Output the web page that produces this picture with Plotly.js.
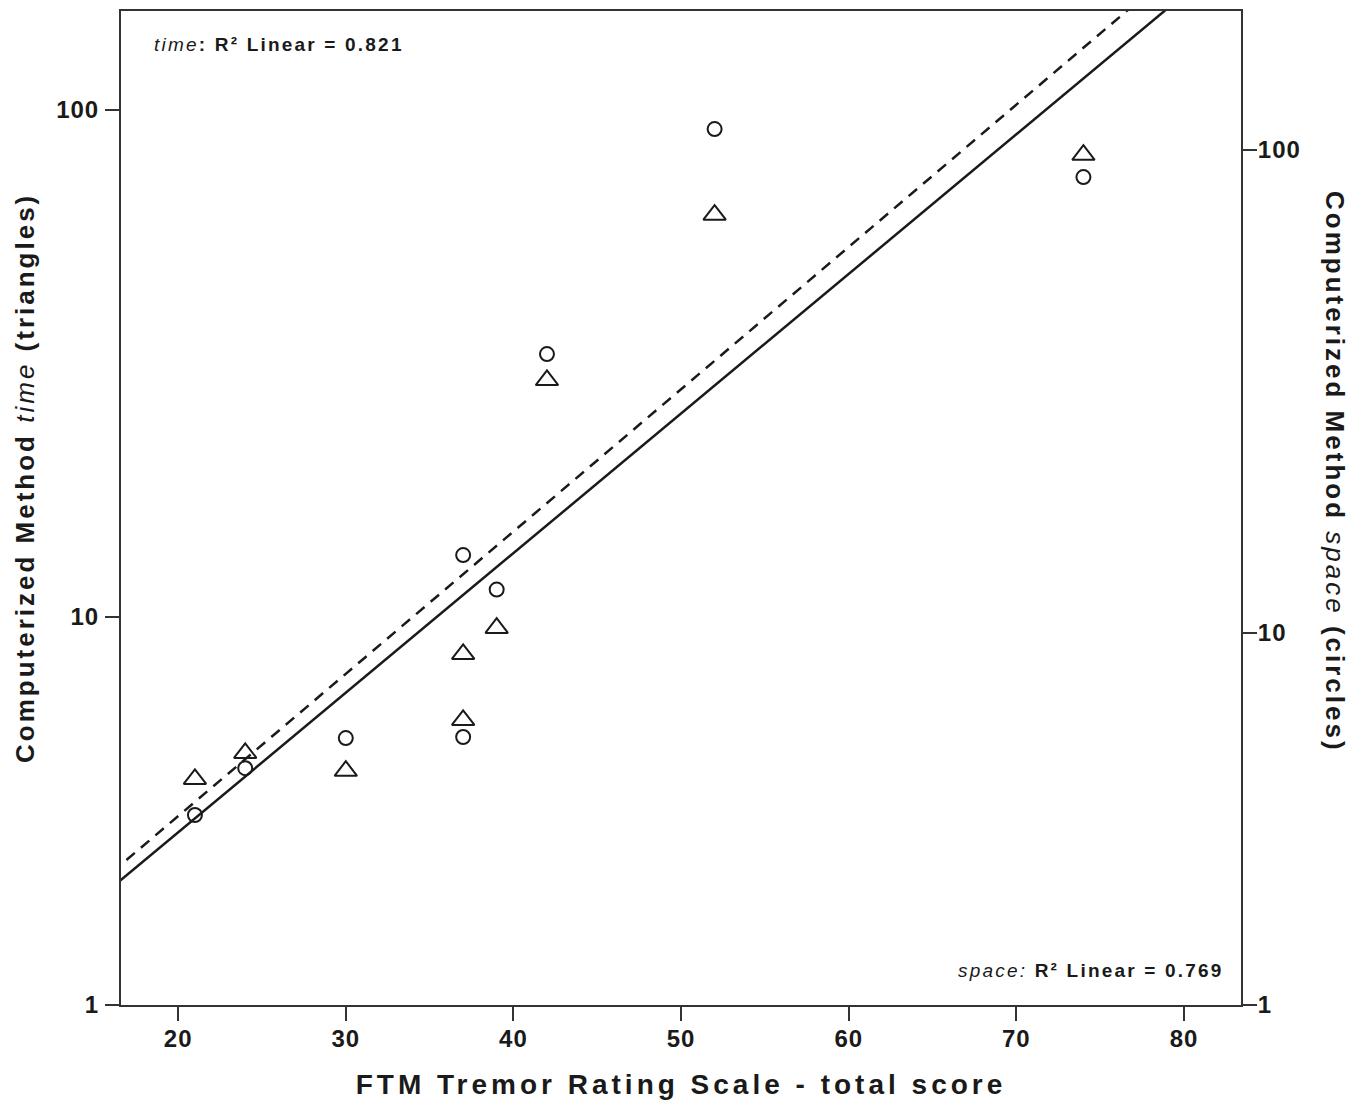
<!DOCTYPE html>
<html>
<head>
<meta charset="utf-8">
<script src="https://cdn.plot.ly/plotly-3.0.1.min.js"></script>
<style>
  html, body { margin: 0; padding: 0; background: #fff; }
  #chart { width: 1363px; height: 1111px; }
  svg text { letter-spacing: 1px; }
  .xtitle { letter-spacing: 4px; }
</style>
</head>
<body>
<div id="chart"></div>
<script>
// FTM Tremor Rating Scale total score
const scoreTime  = [21, 24, 30, 37, 37, 39, 42, 52, 74];
const scoreSpace = [21, 24, 30, 37, 37, 39, 42, 52, 74];
// Computerized method: time (triangles, left axis) and space (circles, right axis)
const timeVals  = [4.79, 5.39, 4.97, 8.45, 6.26, 9.51, 29.3, 62.1, 81.5];
const spaceVals = [4.20, 5.25, 6.06, 14.5, 6.09, 12.3, 37.8, 110.5, 87.9];
// Fit lines (log-linear), endpoints
const fitX     = [10, 90];
const fitTime  = [1.995, 318];
const fitSpace = [2.12, 482];
// Axis ticks
const xTicks = [20, 30, 40, 50, 60, 70, 80];
const yLeftTickVals  = [1.717, 10, 100];
const yRightTickVals = [1.698, 10, 100];
const yTickText = ['1', '10', '100'];

const ink = '#1a1a1a';
const axisCol = '#333333';
const FONT = 'Liberation Sans, Arial, Helvetica, sans-serif';
const sp = (px, s) => '<span style="letter-spacing:' + px + 'px">' + s + '</span>';

const traces = [
  { x: fitX, y: fitTime, mode: 'lines', yaxis: 'y',
    line: { color: ink, width: 2.5 }, hoverinfo: 'skip', showlegend: false },
  { x: fitX, y: fitSpace, mode: 'lines', yaxis: 'y2',
    line: { color: ink, width: 2.5, dash: '11px,8px' }, hoverinfo: 'skip', showlegend: false },
  { x: scoreTime, y: timeVals, mode: 'markers', yaxis: 'y', name: 'time',
    marker: { symbol: 'triangle-up-open', size: 19.5, color: ink, line: { color: ink, width: 2 } },
    showlegend: false },
  { x: scoreSpace, y: spaceVals, mode: 'markers', yaxis: 'y2', name: 'space',
    marker: { symbol: 'circle-open', size: 14, color: ink, line: { color: ink, width: 2 } },
    showlegend: false }
];

const layout = {
  width: 1363, height: 1111,
  margin: { l: 121, r: 122, t: 11, b: 106, pad: 0 },
  paper_bgcolor: '#ffffff', plot_bgcolor: '#ffffff',
  font: { family: FONT, color: ink },
  showlegend: false,
  xaxis: {
    range: [16.59, 83.40], tickvals: xTicks, ticktext: xTicks.map(String),
    ticks: 'outside', ticklen: 14, tickwidth: 2, tickcolor: axisCol,
    showline: true, linewidth: 2, linecolor: axisCol, mirror: true,
    showgrid: false, zeroline: false, ticklabelstandoff: -3,
    tickfont: { family: FONT, size: 24, weight: 'bold', color: ink },
    title: { text: 'FTM Tremor Rating Scale - total score',
             font: { family: FONT, size: 28, weight: 'bold', color: ink }, standoff: 24 }
  },
  yaxis: {
    type: 'log', range: [0.2347, 2.195],
    tickvals: yLeftTickVals, ticktext: yTickText,
    ticks: 'outside', ticklen: 14, tickwidth: 2, tickcolor: axisCol,
    showline: true, linewidth: 2, linecolor: axisCol,
    showgrid: false, zeroline: false, ticklabelstandoff: 1,
    tickfont: { family: FONT, size: 24, weight: 'bold', color: ink }
  },
  yaxis2: {
    type: 'log', range: [0.2298, 2.2878], overlaying: 'y', side: 'right',
    tickvals: yRightTickVals, ticktext: yTickText,
    ticks: 'outside', ticklen: 14, tickwidth: 2, tickcolor: axisCol,
    showline: true, linewidth: 2, linecolor: axisCol,
    showgrid: false, zeroline: false, ticklabelstandoff: -4,
    tickfont: { family: FONT, size: 24, weight: 'bold', color: ink }
  },
  annotations: [
    // left axis title (reads bottom to top)
    { xref: 'paper', yref: 'paper', x: -0.0857, y: 0.5302, xanchor: 'center', yanchor: 'middle',
      showarrow: false, textangle: -90,
      text: sp(3, '<b>Computerized Method </b><i>time</i><b> (triangles)</b>'),
      font: { family: FONT, size: 26, color: ink } },
    // right axis title (reads top to bottom)
    { xref: 'paper', yref: 'paper', x: 1.0839, y: 0.5362, xanchor: 'center', yanchor: 'middle',
      showarrow: false, textangle: 90,
      text: sp(3, '<b>Computerized Method </b><i>space</i><b> (circles)</b>'),
      font: { family: FONT, size: 26, color: ink } },
    { xref: 'paper', yref: 'paper', x: 0.0277, y: 0.9668, xanchor: 'left', yanchor: 'middle',
      showarrow: false, text: sp(2.2, '<i>time</i><b>: R² Linear = 0.821</b>'),
      font: { family: FONT, size: 19, color: ink } },
    { xref: 'paper', yref: 'paper', x: 0.9866, y: 0.0352, xanchor: 'right', yanchor: 'middle',
      showarrow: false, text: sp(2.2, '<i>space:</i><b> R² Linear = 0.769</b>'),
      font: { family: FONT, size: 19, color: ink } }
  ]
};

Plotly.newPlot('chart', traces, layout, { displayModeBar: false, staticPlot: true });
</script>
</body>
</html>
